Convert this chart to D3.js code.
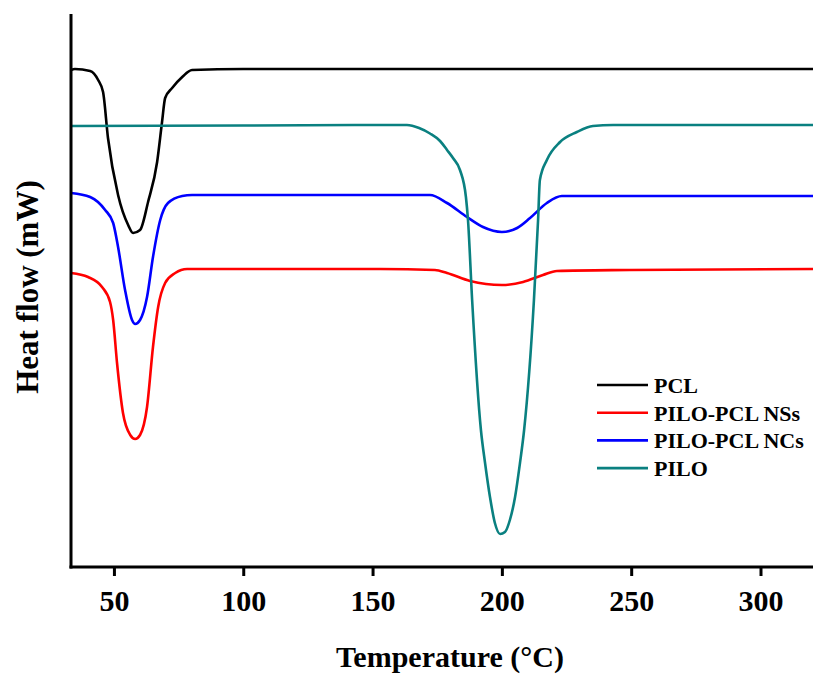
<!DOCTYPE html>
<html>
<head>
<meta charset="utf-8">
<script src="https://cdn.jsdelivr.net/npm/d3@7"></script>
<style>
body { margin: 0; background: #fff; }
text { font-family: "Liberation Serif", "Times New Roman", serif; font-weight: bold; fill: #000; }
</style>
</head>
<body>
<div id="chart"></div>
<script>
// DSC curves, heat flow in arbitrary units (no y ticks on the original)
var pclT  = [33.4, 34.9, 40.8, 43.9, 45.8, 47.7, 51.6, 55.5, 57.4, 60.1, 63.2, 66.7, 68.6, 69.8, 72.5, 76.4, 80.2, 100, 200, 320.3];
var pclHF = [49.7, 49.8, 49.6, 48.7, 47.5, 42.9, 37.2, 34.2, 33.4, 33.7, 36.5, 40.5, 44.5, 46.9, 47.9, 49.0, 49.7, 49.8, 49.8, 49.8];

var nssT  = [33.4, 40.0, 45.4, 48.5, 49.7, 51.2, 53.5, 56.3, 58.2, 60.1, 62.8, 65.1, 67.1, 69.8, 73.7, 78.3, 152.9, 174.1, 178.8, 187.7, 200.0, 208.2, 215.9, 221.3, 249.5, 320.3];
var nssHF = [29.4, 29.0, 28.0, 26.5, 24.7, 20.4, 15.4, 13.2, 12.8, 13.2, 16.0, 22.0, 26.0, 28.4, 29.4, 29.8, 29.8, 29.7, 29.4, 28.6, 28.2, 28.5, 29.2, 29.6, 29.7, 29.8];

var ncsT  = [33.4, 40.8, 46.6, 49.7, 51.6, 54.3, 57.0, 58.2, 60.1, 62.8, 65.1, 67.9, 70.9, 76.4, 80.2, 152.9, 172.2, 178.8, 186.5, 192.7, 200.0, 205.9, 210.9, 217.4, 223.2, 249.5, 320.3];
var ncsHF = [37.4, 37.0, 35.7, 34.4, 32.0, 27.7, 24.7, 24.3, 24.7, 27.0, 31.0, 34.7, 36.4, 37.1, 37.2, 37.2, 37.2, 36.4, 35.0, 34.0, 33.5, 33.9, 34.9, 36.4, 37.1, 37.1, 37.1];

var piloT  = [33.4, 100, 152.9, 163.3, 168.0, 172.2, 176.1, 178.8, 181.1, 183.8, 186.1, 186.9, 188.5, 191.9, 193.5, 195.4, 197.3, 199.3, 201.2, 203.1, 205.1, 207.0, 208.6, 212.4, 214.0, 214.7, 217.4, 222.5, 229.0, 235.2, 243.0, 320.3];
var piloHF = [44.1, 44.15, 44.2, 44.2, 43.9, 43.35, 42.6, 41.7, 40.9, 39.7, 37.0, 34.7, 26.7, 13.7, 10.4, 7.0, 4.4, 3.3, 3.5, 4.7, 7.0, 10.4, 13.7, 26.7, 34.7, 38.7, 40.7, 42.5, 43.5, 44.1, 44.2, 44.2];

var seriesNames  = ["PCL", "PILO-PCL NSs", "PILO-PCL NCs", "PILO"];
var seriesColors = ["#000000", "#ff0000", "#0000ff", "#0a8080"];
var xTicks = [50, 100, 150, 200, 250, 300];

function makeSeries(t, hf){
    var pts = [];
    for (var i = 0; i < t.length; i++) pts.push({t: t[i], hf: hf[i]});
    return pts;
}
var allSeries = [
    makeSeries(pclT, pclHF),
    makeSeries(nssT, nssHF),
    makeSeries(ncsT, ncsHF),
    makeSeries(piloT, piloHF)
];

var width = 813, height = 674;
var plotLeft = 71, plotRight = 813, plotTop = 14, plotBottom = 567;

var svg = d3.select("#chart").append("svg")
    .attr("width", width)
    .attr("height", height);

var x = d3.scaleLinear().domain([33.4, 320.3]).range([plotLeft, plotRight]);
var y = d3.scaleLinear().domain([0, 55.3]).range([plotBottom, plotTop]);

var line = d3.line()
    .x(function(d){ return x(d.t); })
    .y(function(d){ return y(d.hf); })
    .curve(d3.curveMonotoneX);

// curves, drawn so PILO sits on top like the original
var order = [0, 2, 1, 3];
order.forEach(function(k){
    svg.append("path")
        .datum(allSeries[k])
        .attr("d", line)
        .attr("fill", "none")
        .attr("stroke", seriesColors[k])
        .attr("stroke-width", 2.6)
        .attr("stroke-linejoin", "round");
});

// x axis
var xAxis = svg.append("g")
    .attr("transform", "translate(0," + plotBottom + ")")
    .call(d3.axisBottom(x).tickValues(xTicks).tickSizeInner(9).tickSizeOuter(0).tickPadding(14));
xAxis.select(".domain").attr("stroke-width", 3).attr("d", "M" + (plotLeft - 1.5) + ",0H" + plotRight);
xAxis.selectAll(".tick line").attr("stroke-width", 3);
xAxis.selectAll(".tick text")
    .attr("font-size", 30)
    .style("font-family", "'Liberation Serif', 'Times New Roman', serif")
    .style("font-weight", "bold")
    .attr("fill", "#000");

// y axis line only
svg.append("line")
    .attr("x1", plotLeft).attr("x2", plotLeft)
    .attr("y1", plotTop).attr("y2", plotBottom + 1.5)
    .attr("stroke", "#000")
    .attr("stroke-width", 3);

// axis titles
svg.append("text")
    .attr("x", 450).attr("y", 667)
    .attr("text-anchor", "middle")
    .attr("font-size", 30)
    .text("Temperature (\u00B0C)");

svg.append("text")
    .attr("transform", "translate(38,287) rotate(-90)")
    .attr("text-anchor", "middle")
    .attr("font-size", 31)
    .text("Heat flow (mW)");

// legend
var legend = svg.append("g").attr("transform", "translate(597,385)");
seriesNames.forEach(function(name, i){
    var g = legend.append("g").attr("transform", "translate(0," + (i * 27.7) + ")");
    g.append("line")
        .attr("x1", 0).attr("x2", 51)
        .attr("y1", 0).attr("y2", 0)
        .attr("stroke", seriesColors[i])
        .attr("stroke-width", 2.6);
    g.append("text")
        .attr("x", 57).attr("y", 8)
        .attr("font-size", 22)
        .text(name);
});
</script>
</body>
</html>
